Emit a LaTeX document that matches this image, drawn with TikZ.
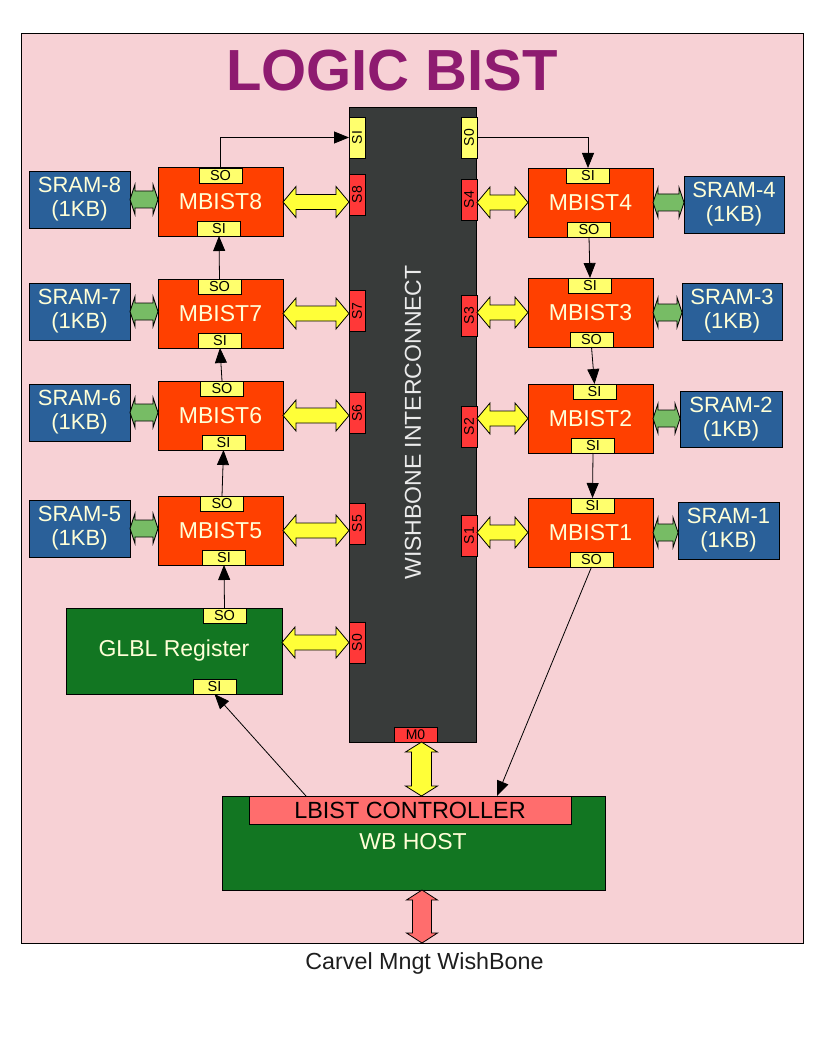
\documentclass[tikz,border=0pt]{standalone}
\usepackage{fontspec}
\setmainfont{Liberation Sans}
\usetikzlibrary{arrows.meta,calc}
\definecolor{bgpink}{HTML}{F7D1D5}
\definecolor{icgrey}{HTML}{383B3A}
\definecolor{mbred}{HTML}{FF4000}
\definecolor{portyel}{HTML}{FFFF6D}
\definecolor{portred}{HTML}{FF3838}
\definecolor{sramblue}{HTML}{2A6099}
\definecolor{cream}{HTML}{FFFFD7}
\definecolor{arrowyel}{HTML}{FFFF38}
\definecolor{arrowgrn}{HTML}{77BC65}
\definecolor{hostgreen}{HTML}{127622}
\definecolor{lbistred}{HTML}{FF6D6D}
\definecolor{titlepurple}{HTML}{8E1B70}
\definecolor{capgrey}{HTML}{1E1E1E}
\newcommand{\dblH}[6]{\path[#1] let \p1=#2, \p2=#3 in
 (\x1,\y1) -- (\x1+#6pt,\y1+#5pt) -- (\x1+#6pt,\y1+#4pt) -- (\x2-#6pt,\y1+#4pt) -- (\x2-#6pt,\y1+#5pt) -- (\x2,\y1)
 -- (\x2-#6pt,\y1-#5pt) -- (\x2-#6pt,\y1-#4pt) -- (\x1+#6pt,\y1-#4pt) -- (\x1+#6pt,\y1-#5pt) -- cycle;}
\newcommand{\dblV}[6]{\path[#1] let \p1=#2, \p2=#3 in
 (\x1,\y1) -- (\x1+#5pt,\y1-#6pt) -- (\x1+#4pt,\y1-#6pt) -- (\x1+#4pt,\y2+#6pt) -- (\x1+#5pt,\y2+#6pt) -- (\x1,\y2)
 -- (\x1-#5pt,\y2+#6pt) -- (\x1-#4pt,\y2+#6pt) -- (\x1-#4pt,\y1-#6pt) -- (\x1-#5pt,\y1-#6pt) -- cycle;}
\begin{document}
\begin{tikzpicture}[x=1pt,y=-1pt,line width=0.9pt,
  every node/.style={inner sep=0pt,outer sep=0pt},
  sram/.style={draw=black,fill=sramblue,text=cream,align=center,minimum width=101pt,minimum height=57pt,font=\fontsize{22}{24}\selectfont},
  mbist/.style={draw=black,fill=mbred,text=cream,minimum width=125pt,minimum height=69pt,font=\fontsize{23}{26}\selectfont},
  port/.style={draw=black,fill=portyel,minimum width=43pt,minimum height=15pt,font=\fontsize{14.5}{15}\selectfont},
  vport/.style={draw=black,minimum width=16pt,minimum height=41pt,font=\fontsize{14}{15}\selectfont},
  hostbox/.style={draw=black,fill=hostgreen,text=cream},
  link/.style={draw=black,line width=0.8pt,-{Triangle[length=15pt,width=12pt]}},
  yarrow/.style={draw=black,fill=arrowyel,line width=0.8pt},
  garrow/.style={draw=black,fill=arrowgrn,line width=0.8pt},
  rarrow/.style={draw=black,fill=lbistred,line width=0.8pt}]
\useasboundingbox (0,0) rectangle (816,1056);
% background
\node[draw=black,fill=bgpink,minimum width=782pt,minimum height=910pt] (bg) at (412,488) {};
\node[font=\fontsize{58}{60}\selectfont\bfseries,text=titlepurple,anchor=base] (title) at (392,91) {LOGIC BIST};
% interconnect
\node[draw=black,fill=icgrey,minimum width=127pt,minimum height=635pt] (ic) at (412.5,424.5) {};
\node[text=white!92!black,font=\fontsize{23}{26}\selectfont] (ictext) at (413,422.5) {\rotatebox{90}{WISHBONE INTERCONNECT}};
% left ports
\node[vport,fill=portyel] (psi) at (357,137.5) {\rotatebox{90}{SI}};
\node[vport,fill=portred] (p8) at (357,194.5) {\rotatebox{90}{S8}};
\node[vport,fill=portred] (p7) at (357,311) {\rotatebox{90}{S7}};
\node[vport,fill=portred] (p6) at (357,413) {\rotatebox{90}{S6}};
\node[vport,fill=portred] (p5) at (357,523.5) {\rotatebox{90}{S5}};
\node[vport,fill=portred] (p0l) at (357,642.5) {\rotatebox{90}{S0}};
% right ports
\node[vport,fill=portyel] (p0r) at (469,137.5) {\rotatebox{90}{S0}};
\node[vport,fill=portred] (p4) at (469,199.5) {\rotatebox{90}{S4}};
\node[vport,fill=portred] (p3) at (469,315.5) {\rotatebox{90}{S3}};
\node[vport,fill=portred] (p2) at (469,426.5) {\rotatebox{90}{S2}};
\node[vport,fill=portred] (p1) at (469,535.5) {\rotatebox{90}{S1}};
\node[draw=black,fill=portred,minimum width=43pt,minimum height=15pt,font=\fontsize{14}{15}\selectfont] (m0) at (415.5,734.5) {M0};
% left MBISTs
\node[mbist] (m8) at (220.5,202) {MBIST8};
\node[mbist] (m7) at (220.5,313.5) {MBIST7};
\node[mbist] (m6) at (220.5,415.5) {MBIST6};
\node[mbist] (m5) at (220.5,530.5) {MBIST5};
\node[port] (m8so) at (220.5,175.5) {SO};
\node[port] (m8si) at (219,228.5) {SI};
\node[port] (m7so) at (219.5,286.5) {SO};
\node[port] (m7si) at (220,340.5) {SI};
\node[port] (m6so) at (222,388.5) {SO};
\node[port] (m6si) at (223.5,442.5) {SI};
\node[port] (m5so) at (222,503.5) {SO};
\node[port] (m5si) at (224,557.5) {SI};
% right MBISTs
\node[mbist] (m4) at (590.5,202.5) {MBIST4};
\node[mbist] (m3) at (590.5,312.5) {MBIST3};
\node[mbist] (m2) at (590.5,418.5) {MBIST2};
\node[mbist] (m1) at (590.5,532.5) {MBIST1};
\node[port] (m4si) at (588,175.5) {SI};
\node[port] (m4so) at (589,229.5) {SO};
\node[port] (m3si) at (590,285.5) {SI};
\node[port] (m3so) at (591.5,339.5) {SO};
\node[port] (m2si) at (594.5,391.5) {SI};
\node[port] (m2sib) at (593,445.5) {SI};
\node[port] (m1si) at (592.5,505.5) {SI};
\node[port] (m1so) at (591.5,559.5) {SO};
% SRAMs
\node[sram] (s8) at (79.5,199.5) {SRAM-8\\(1KB)};
\node[sram] (s7) at (79.5,311.5) {SRAM-7\\(1KB)};
\node[sram] (s6) at (79.5,412.5) {SRAM-6\\(1KB)};
\node[sram] (s5) at (79.5,528.5) {SRAM-5\\(1KB)};
\node[sram,minimum width=100pt] (s4) at (734,204.5) {SRAM-4\\(1KB)};
\node[sram,minimum width=100pt] (s3) at (732,311.5) {SRAM-3\\(1KB)};
\node[sram,minimum width=102pt,minimum height=56pt] (s2) at (731,419) {SRAM-2\\(1KB)};
\node[sram] (s1) at (728.5,530.5) {SRAM-1\\(1KB)};
% GLBL register
\node[hostbox,minimum width=216pt,minimum height=86pt,font=\fontsize{23}{26}\selectfont] (gl) at (174,651) {GLBL Register};
\node[port] (glso) at (224.5,615.5) {SO};
\node[port] (glsi) at (214.5,686.5) {SI};
% WB host
\node[hostbox,minimum width=383pt,minimum height=94pt] (wb) at (413.5,843) {};
\node[text=cream,font=\fontsize{23}{26}\selectfont] (wbtext) at (413,842) {WB HOST};
\node[draw=black,fill=lbistred,minimum width=322pt,minimum height=28pt,font=\fontsize{23.4}{26}\selectfont] (lbist) at (410,810) {LBIST CONTROLLER};
\coordinate (wbin) at (497,796);
\coordinate (wbout) at (306,796);
% caption
\node[anchor=base,text=capgrey,font=\fontsize{23.3}{26}\selectfont] (cap) at (424.5,969) {Carvel Mngt WishBone};
% yellow bus arrows
\dblH{yarrow}{(m8.east)}{(p8.west)}{7.5}{15.5}{13}
\dblH{yarrow}{(m7.east)}{(p7.west)}{7.5}{15.5}{13}
\dblH{yarrow}{(m6.east)}{(p6.west)}{7.5}{15.5}{13}
\dblH{yarrow}{(m5.east)}{(p5.west)}{7.5}{15.5}{13}
\dblH{yarrow}{(p0l.west -| gl.east)}{(p0l.west)}{7.5}{15.5}{13}
\dblH{yarrow}{(m4.west -| p4.east)}{(m4.west)}{7.5}{15.5}{13}
\dblH{yarrow}{(m3.west -| p3.east)}{(m3.west)}{7.5}{15.5}{13}
\dblH{yarrow}{(m2.west -| p2.east)}{(m2.west)}{7.5}{15.5}{13}
\dblH{yarrow}{(m1.west -| p1.east)}{(m1.west)}{7.5}{15.5}{13}
% green memory arrows
\dblH{garrow}{(s8.east)}{(m8.west)}{8.5}{15}{5}
\dblH{garrow}{(s7.east)}{(m7.west)}{8.5}{15}{5}
\dblH{garrow}{(s6.east)}{(m6.west)}{8.5}{15}{5}
\dblH{garrow}{(s5.east)}{(m5.west)}{8.5}{15}{5}
\dblH{garrow}{(m4.east)}{(s4.west)}{8.5}{15}{5}
\dblH{garrow}{(m3.east)}{(s3.west)}{8.5}{15}{5}
\dblH{garrow}{(m2.east)}{(s2.west)}{8.5}{15}{5}
\dblH{garrow}{(m1.east)}{(s1.west)}{8.5}{15}{5}
% vertical arrows
\dblV{yarrow}{($(m0.south)+(6,0)$)}{(wb.north)}{10}{16}{10}
\dblV{rarrow}{($(wb.south)+(8.5,0)$)}{(bg.south)}{9.5}{15.5}{10}
% scan chain links
\draw[link] (m8so.north) |- (psi.west);
\draw[link] (p0r.east) -| (m4si.north);
\draw[link] (m4so.south) -- (m3si.north);
\draw[link] (m3so.south) -- (m2si.north);
\draw[link] (m2sib.south) -- (m1si.north);
\draw[link] (m1so.south) -- (wbin);
\draw[link] (wbout) -- (glsi.south);
\draw[link] (glso.north) -- (m5si.south);
\draw[link] (m5so.north) -- (m6si.south);
\draw[link] (m6so.north) -- (m7si.south);
\draw[link] (m7so.north) -- (m8si.south);
\end{tikzpicture}
\end{document}
